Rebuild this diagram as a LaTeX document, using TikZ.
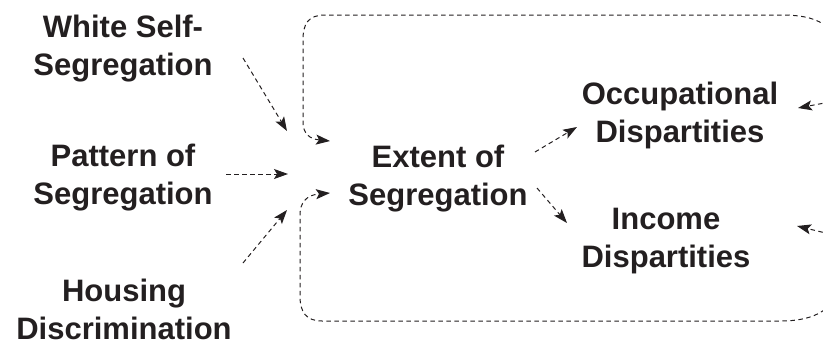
\documentclass[tikz,border=0pt]{standalone}
\usepackage{fontspec}
\setmainfont{Liberation Sans}
\usetikzlibrary{arrows.meta}
\definecolor{ink}{HTML}{231F20}
\begin{document}
\begin{tikzpicture}[x=1pt,y=-1pt,
  lbl/.style={font=\bfseries\fontsize{31}{37.5}\selectfont, align=center,
    text=ink, inner sep=0pt, anchor=base},
  dep/.style={draw=ink, line width=1pt, dash pattern=on 4.5pt off 3.5pt,
    -{Stealth[length=14pt,width=10pt,inset=3pt]}}]
\useasboundingbox (0,0) rectangle (823,341);
\clip (0,0) rectangle (823,341);

% causes (base anchor sits on the last line)
\node[lbl] (ws)  at (123,75)  {White Self-\\Segregation};
\node[lbl] (pat) at (123,204) {Pattern of\\Segregation};
\node[lbl] (hd)  at (124,339) {Housing\\Discrimination};
% central factor
\node[lbl] (ext) at (438,205) {Extent of\\Segregation};
% outcomes
\node[lbl] (occ) at (680,142) {Occupational\\Dispartities};
\node[lbl] (inc) at (666,267) {Income\\Dispartities};

% feedback sources lying to the right
\coordinate (fbTop) at (846,70);
\coordinate (fbBot) at (846,268);
\coordinate (srcOcc) at (846,99);
\coordinate (srcInc) at (846,238);

% causes -> extent
\draw[dep] ([shift={(120,-17)}]ws.base) -- ([shift={(-151,-74)}]ext.base);
\draw[dep] ([shift={(103,-30)}]pat.base) -- ([shift={(-150,-31)}]ext.base);
\draw[dep] ([shift={(119,-76)}]hd.base) -- ([shift={(-151,5)}]ext.base);

% extent -> outcomes
\draw[dep] ([shift={(97,-53)}]ext.base) -- ([shift={(-103,-15)}]occ.base);
\draw[dep] ([shift={(99,-17)}]ext.base) -- ([shift={(-99,-44)}]inc.base);

% feedback into the outcomes
\draw[dep] (srcOcc) -- ([shift={(118,-34)}]occ.base);
\draw[dep] (srcInc) -- ([shift={(131,-41)}]inc.base);

% feedback loops into extent
\draw[dep] (fbTop) .. controls (840,22) and (815,15) .. (780,15)
  -- (325,15) .. controls (308,15) and (303,24) .. (303,40)
  -- (303,122) .. controls (303,134) and (310,139) .. ([shift={(-108,-64)}]ext.base);
\draw[dep] (fbBot) .. controls (840,310) and (815,321) .. (780,321)
  -- (322,321) .. controls (306,321) and (300,312) .. (300,296)
  -- (300,215) .. controls (300,203) and (306,195) .. ([shift={(-108,-12)}]ext.base);
\end{tikzpicture}
\end{document}
